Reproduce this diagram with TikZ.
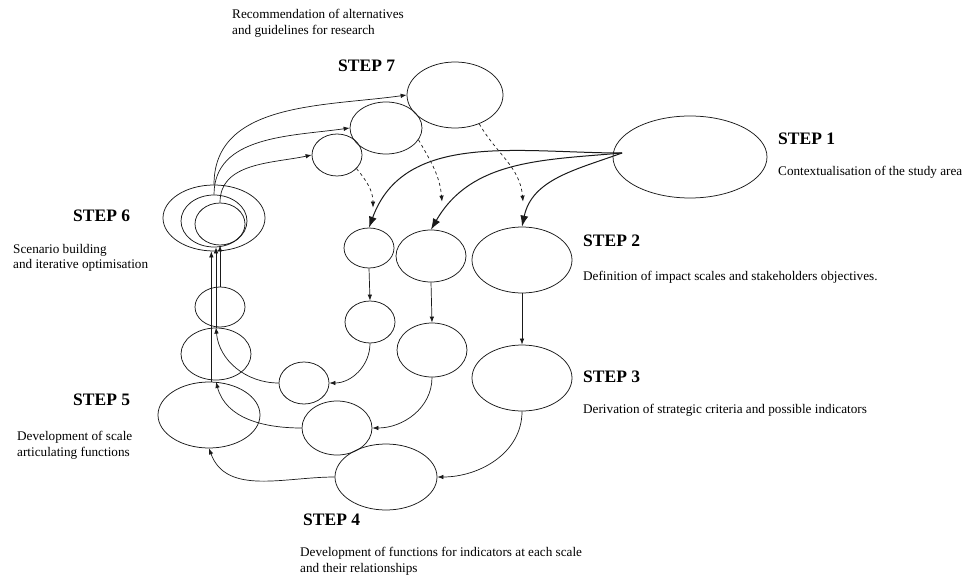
\documentclass[tikz,border=0pt]{standalone}
\usepackage{fontspec}
\setmainfont{Liberation Serif}
\usetikzlibrary{arrows.meta,shapes.geometric,calc}
\definecolor{inkline}{HTML}{1A1A1A}
\tikzset{
  bubble/.style={ellipse, draw=inkline, line width=0.75pt, inner sep=0pt},
  stage/.style={font=\fontsize{17.5}{20}\selectfont\bfseries, anchor=base west, inner sep=0pt},
  remark/.style={font=\fontsize{13.2}{16}\selectfont, align=left, anchor=base west, inner sep=0pt},
  flow/.style={-{Latex[length=6pt,width=4.5pt]}, line width=0.7pt, draw=inkline},
  feed/.style={-{Latex[length=11pt,width=8pt]}, line width=1pt, draw=inkline},
  hint/.style={flow, dashed}
}

\begin{document}
\begin{tikzpicture}[x=1pt, y=1pt]
\useasboundingbox (0,0) rectangle (968,-577);

% Step labels and notes (two-line notes sit on their last baseline)
\node[remark] (recnote) at (232,-35)  {Recommendation of alternatives\\and guidelines for research};
\node[stage]  (step7)   at (338,-72)  {STEP 7};
\node[stage]  (step1)   at (778,-145) {STEP 1};
\node[remark] (ctxnote) at (778,-176) {Contextualisation of the study area};
\node[stage]  (step2)   at (583,-247) {STEP 2};
\node[remark] (defnote) at (583,-280) {Definition of impact scales and stakeholders objectives.};
\node[stage]  (step3)   at (583,-382) {STEP 3};
\node[remark] (dernote) at (583,-413) {Derivation of strategic criteria and possible indicators};
\node[stage]  (step6)   at (73,-222)  {STEP 6};
\node[remark] (scnnote) at (13,-269)  {Scenario building\\and iterative optimisation};
\node[stage]  (step5)   at (73,-405)  {STEP 5};
\node[remark] (artnote) at (17,-456)  {Development of scale\\articulating functions};
\node[stage]  (step4)   at (303,-525) {STEP 4};
\node[remark] (funnote) at (300,-572) {Development of functions for indicators at each scale\\and their relationships};

% --- Step 1 ---
\node[bubble, minimum width=154, minimum height=82] (ctx) at (690,-157) {};
\coordinate (ctxin) at (622,-153);

% --- Step 7 ---
\node[bubble, minimum width=96, minimum height=66] (rec3) at (455,-95)  {};
\node[bubble, minimum width=72, minimum height=52] (rec2) at (386,-128) {};
\node[bubble, minimum width=50, minimum height=42] (rec1) at (337,-155) {};

% --- Step 6: nested scenarios ---
\node[bubble, minimum width=102, minimum height=66] (scn3) at (214,-218) {};
\node[bubble, minimum width=66,  minimum height=52] (scn2) at (214,-221) {};
\node[bubble, minimum width=50,  minimum height=42] (scn1) at (220,-224) {};

% --- Step 2 / Step 3 / Step 4 ---
\node[bubble, minimum width=50,  minimum height=40] (def1) at (369,-248) {};
\node[bubble, minimum width=70,  minimum height=52] (def2) at (431,-256) {};
\node[bubble, minimum width=100, minimum height=66] (def3) at (522,-260) {};
\node[bubble, minimum width=50,  minimum height=42] (der1) at (370,-322) {};
\node[bubble, minimum width=70,  minimum height=54] (der2) at (432,-350) {};
\node[bubble, minimum width=100, minimum height=66] (der3) at (522,-378) {};
\node[bubble, minimum width=50,  minimum height=42] (fun1) at (304,-383) {};
\node[bubble, minimum width=70,  minimum height=54] (fun2) at (337,-428) {};
\node[bubble, minimum width=102, minimum height=66] (fun3) at (386,-477) {};

% --- Step 5 ---
\node[bubble, minimum width=50,  minimum height=40] (art0) at (220,-307) {};
\node[bubble, minimum width=70,  minimum height=52] (art1) at (216,-354) {};
\node[bubble, minimum width=102, minimum height=66] (art2) at (209,-415) {};

% dashed hand-back tips above step 2
\coordinate (tip1) at ($(def1.north)+(4,20)$);
\coordinate (tip2) at ($(def2.north)+(11,28)$);
\coordinate (tip3) at ($(def3.north)+(1,25)$);

% --- Flow ---
% context feeds every scale
\draw[feed] (ctxin) to[out=180,in=70] (def1.north);
\draw[feed] (ctxin) to[out=185,in=60] (def2.north);
\draw[feed] (ctxin) to[out=200,in=78] (def3.north);
% recommendations back to the scales
\draw[hint] (rec1.-35) to[out=-50,in=90] (tip1);
\draw[hint] (rec2.-20) to[out=-60,in=95] (tip2);
\draw[hint] (rec3.-50) to[out=-60,in=95] (tip3);
% scales down to criteria
\draw[flow] (def1.south) -- (der1.north);
\draw[flow] (def2.south) -- (der2.north);
\draw[flow] (def3.south) -- (der3.north);
% criteria to functions
\draw[flow] (der1.south) to[out=-90,in=0] (fun1.east);
\draw[flow] (der2.south) to[out=-90,in=0] (fun2.east);
\draw[flow] (der3.south) to[out=-90,in=0] (fun3.east);
% functions to articulation
\draw[flow] (fun1.west) to[out=180,in=-85] (art1.north);
\draw[flow] (fun2.west) to[out=180,in=-75] (art2.78);
\draw[flow] (fun3.west) to[out=180,in=-70] (art2.south);
% articulation up into scenarios
\draw[flow] (art2.86)    -- (art2.86 |- scn3.south);
\draw[flow] (art1.north) -- (art1.north |- scn2.south);
\draw[flow] (art0.north) -- (art0.north |- scn1.south);
% scenarios to recommendations
\draw[flow] (scn3.north) to[out=90,in=188] (rec3.west);
\draw[flow] (scn2.north) to[out=90,in=188] (rec2.west);
\draw[flow] (scn1.north) to[out=90,in=192] (rec1.west);

\end{tikzpicture}
\end{document}
